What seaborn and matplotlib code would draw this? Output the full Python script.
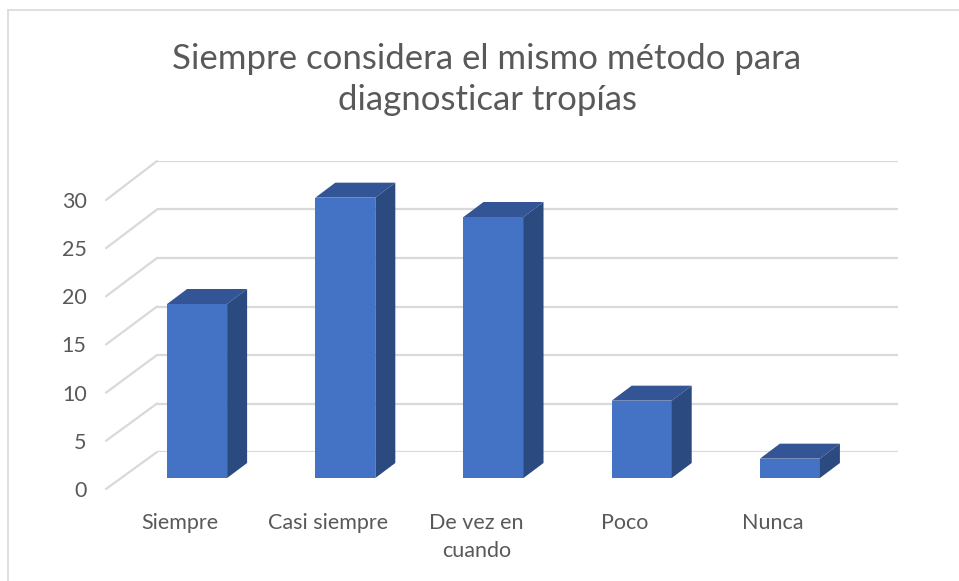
import matplotlib
matplotlib.use("Agg")
import matplotlib.pyplot as plt
import seaborn as sns
from matplotlib.lines import Line2D
from matplotlib.patches import Polygon

# Survey answers and counts
categories = ["Siempre", "Casi siempre", "De vez en\ncuando", "Poco", "Nunca"]
counts = [18, 29, 27, 8, 2]
y_ticks = [0, 5, 10, 15, 20, 25, 30]
title = "Siempre considera el mismo método para\ndiagnosticar tropías"

sns.set_style("white")
plt.rcParams["font.family"] = ["Lato", "DejaVu Sans"]

W, H = 959, 581
DPI = 100
fig = plt.figure(figsize=(W / DPI, H / DPI), dpi=DPI)

FRONT_COLOR = "#4472C4"
TOP_COLOR = "#335595"
SIDE_COLOR = "#2B4A80"
GRID_COLOR = "#D9D9D9"
TEXT_COLOR = "#595959"


def px_rect(left, right, bottom_y, top_y):
    """Axes rectangle from pixel positions measured from the top-left corner."""
    return [left / W, (H - bottom_y) / H, (right - left) / W, (bottom_y - top_y) / H]


# Three planes of the pseudo-3D box: back wall, bar plane, front (labels)
back = fig.add_axes(px_rect(157, 898, 452, 161), zorder=0)
mid = fig.add_axes(px_rect(123, 864, 478, 188), zorder=2)
front = fig.add_axes(px_rect(106, 847, 489, 200), zorder=1)

for ax in (back, mid, front):
    ax.set_xlim(-0.5, len(categories) - 0.5)
    ax.set_ylim(0, 30)
    for s in ax.spines.values():
        s.set_visible(False)
    ax.patch.set_alpha(0)

# Back wall gridlines
back.set_xticks([])
back.set_yticks(y_ticks)
back.set_yticklabels([])
back.tick_params(length=0)
back.yaxis.grid(True, color=GRID_COLOR, linewidth=1.6)
back.xaxis.grid(False)

# Diagonal floor/side lines joining the back wall to the front edge
inv = fig.transFigure.inverted()
for v in y_ticks:
    p0 = inv.transform(back.transData.transform((-0.5, v)))
    p1 = inv.transform(front.transData.transform((-0.5, v)))
    fig.add_artist(Line2D([p0[0], p1[0]], [p0[1], p1[1]],
                          transform=fig.transFigure, color=GRID_COLOR,
                          linewidth=1.6, zorder=0.5))

# Bars (front faces)
sns.barplot(x=categories, y=counts, color=FRONT_COLOR, saturation=1,
            width=0.405, ax=mid, linewidth=0)
mid.set_xlim(-0.5, len(categories) - 0.5)
mid.set_ylim(0, 30)
mid.set_xticks([])
mid.set_yticks([])
mid.set_xlabel("")
mid.set_ylabel("")

# Depth of each bar: offset of its back face in pixels
DEPTH_DX, DEPTH_DY = 20, 15
x_per_px = (len(categories)) / (864 - 123)
y_per_px = 30 / (478 - 188)
ddx, ddy = DEPTH_DX * x_per_px, DEPTH_DY * y_per_px

for bar in mid.patches:
    x0 = bar.get_x()
    x1 = x0 + bar.get_width()
    h = bar.get_height()
    top = Polygon([(x0, h), (x1, h), (x1 + ddx, h + ddy), (x0 + ddx, h + ddy)],
                  closed=True, facecolor=TOP_COLOR, edgecolor="none",
                  clip_on=False, zorder=3)
    side = Polygon([(x1, 0), (x1, h), (x1 + ddx, h + ddy), (x1 + ddx, ddy)],
                   closed=True, facecolor=SIDE_COLOR, edgecolor="none",
                   clip_on=False, zorder=3)
    mid.add_patch(top)
    mid.add_patch(side)

# Front plane: value and category labels
front.set_yticks(y_ticks)
front.set_yticklabels([str(t) for t in y_ticks], fontsize=15.5, color=TEXT_COLOR)
front.set_xticks(range(len(categories)))
front.set_xticklabels(categories, fontsize=15.5, color=TEXT_COLOR, linespacing=1.55)
front.tick_params(axis="y", length=0, pad=14)
front.tick_params(axis="x", length=0, pad=17)
front.grid(False)
for lbl in front.get_xticklabels():
    lbl.set_verticalalignment("top")

# Title
fig.text(487 / W, 1 - 43 / H, title, ha="center", va="top",
         fontsize=25, color=TEXT_COLOR, linespacing=1.35)

# Chart area border (left and top edges visible)
fig.add_artist(Line2D([7.5 / W, 7.5 / W], [0, 1 - 9.5 / H],
                      transform=fig.transFigure, color=GRID_COLOR, linewidth=1.2))
fig.add_artist(Line2D([7.5 / W, 1], [1 - 9.5 / H, 1 - 9.5 / H],
                      transform=fig.transFigure, color=GRID_COLOR, linewidth=1.2))

fig.savefig("out.png", dpi=DPI)
